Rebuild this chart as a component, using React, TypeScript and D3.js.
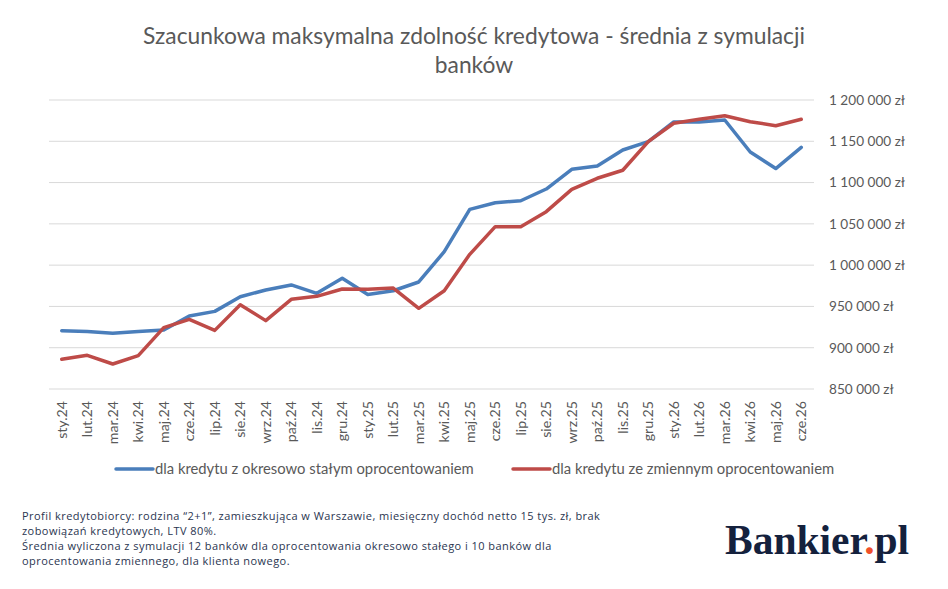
import React, { useEffect, useRef } from 'react';
import * as d3 from 'd3';

const months = [
  'sty.24', 'lut.24', 'mar.24', 'kwi.24', 'maj.24', 'cze.24', 'lip.24', 'sie.24', 'wrz.24', 'paź.24', 'lis.24', 'gru.24',
  'sty.25', 'lut.25', 'mar.25', 'kwi.25', 'maj.25', 'cze.25', 'lip.25', 'sie.25', 'wrz.25', 'paź.25', 'lis.25', 'gru.25',
  'sty.26', 'lut.26', 'mar.26', 'kwi.26', 'maj.26', 'cze.26',
];

// okresowo stałe oprocentowanie
const fixedRate = [
  920600, 919500, 917500, 919500, 921500, 938400, 944000, 961800, 969900, 976000, 965900, 984000,
  964500, 969000, 979600, 1016300, 1067600, 1075600, 1078000, 1092200, 1116000, 1120000, 1139400, 1149500,
  1173400, 1173400, 1175800, 1137000, 1117000, 1142700,
];

// zmienne oprocentowanie
const variableRate = [
  886000, 890800, 880300, 890400, 924300, 934400, 921000, 952100, 932800, 958600, 962200, 971100,
  970700, 972300, 947700, 969000, 1013100, 1046600, 1046600, 1064800, 1091800, 1105200, 1114900, 1149500,
  1171800, 1176600, 1181000, 1173700, 1168900, 1176600,
];

const yTicks = [850000, 900000, 950000, 1000000, 1050000, 1100000, 1150000, 1200000];

const seriesNames = ['dla kredytu z okresowo stałym oprocentowaniem', 'dla kredytu ze zmiennym oprocentowaniem'];
const seriesColors = ['#4a7ebb', '#be4b48'];

const footnote = [
  'Profil kredytobiorcy: rodzina “2+1”, zamieszkująca w Warszawie, miesięczny dochód netto 15 tys. zł, brak',
  'zobowiązań kredytowych, LTV 80%.',
  'Średnia wyliczona z symulacji 12 banków dla oprocentowania okresowo stałego i 10 banków dla',
  'oprocentowania zmiennego, dla klienta nowego.',
];

const W = 948;
const H = 589;
const font = 'Lato, "Open Sans", sans-serif';

const fmt = (v: number) => d3.format(',')(v).replace(/,/g, ' ') + ' zł';

const App: React.FC = () => {
  const ref = useRef<SVGSVGElement>(null);

  useEffect(() => {
    const svg = d3.select(ref.current);
    svg.selectAll('*').remove();

    const left = 49, right = 814, top = 100, bottom = 389;

    const x = d3.scaleBand().domain(months).range([left, right]);
    const y = d3.scaleLinear().domain([850000, 1200000]).range([bottom, top]);

    // title
    const title = svg.append('text')
      .attr('text-anchor', 'middle')
      .attr('font-family', font)
      .attr('font-size', 22.8)
      .attr('fill', '#595959');
    title.append('tspan').attr('x', 474).attr('y', 44).text('Szacunkowa maksymalna zdolność kredytowa - średnia z symulacji');
    title.append('tspan').attr('x', 474).attr('y', 73).text('banków');

    // gridlines
    svg.append('g')
      .selectAll('line')
      .data(yTicks)
      .enter().append('line')
      .attr('x1', left).attr('x2', right)
      .attr('y1', (d) => y(d)).attr('y2', (d) => y(d))
      .attr('stroke', '#d9d9d9')
      .attr('stroke-width', 1);

    // y labels (right side)
    svg.append('g')
      .selectAll('text')
      .data(yTicks)
      .enter().append('text')
      .attr('x', 829)
      .attr('y', (d) => y(d) + 4.8)
      .attr('font-family', font)
      .attr('font-size', 13.6)
      .attr('fill', '#595959')
      .text((d) => fmt(d));

    // x labels, rotated
    svg.append('g')
      .selectAll('text')
      .data(months)
      .enter().append('text')
      .attr('transform', (d) => `translate(${x(d)! + x.bandwidth() / 2 + 4.8},401) rotate(-90)`)
      .attr('text-anchor', 'end')
      .attr('font-family', font)
      .attr('font-size', 14.2)
      .attr('fill', '#595959')
      .text((d) => d);

    const line = d3.line<number>()
      .x((_, i) => x(months[i])! + x.bandwidth() / 2)
      .y((d) => y(d));

    [fixedRate, variableRate].forEach((s, i) => {
      svg.append('path')
        .datum(s)
        .attr('d', line)
        .attr('fill', 'none')
        .attr('stroke', seriesColors[i])
        .attr('stroke-width', 3.5)
        .attr('stroke-linejoin', 'round')
        .attr('stroke-linecap', 'round');
    });

    // legend
    const legendX = [116, 513];
    seriesNames.forEach((name, i) => {
      svg.append('line')
        .attr('x1', legendX[i]).attr('x2', legendX[i] + 37)
        .attr('y1', 469).attr('y2', 469)
        .attr('stroke', seriesColors[i])
        .attr('stroke-width', 3.5)
        .attr('stroke-linecap', 'round');
      svg.append('text')
        .attr('x', legendX[i] + 39)
        .attr('y', 474)
        .attr('font-family', font)
        .attr('font-size', 14.8)
        .attr('fill', '#595959')
        .text(name);
    });

    // footnote
    svg.append('g')
      .selectAll('text')
      .data(footnote)
      .enter().append('text')
      .attr('x', 22)
      .attr('y', (_, i) => 520 + i * 15)
      .attr('font-family', '"Open Sans", sans-serif')
      .attr('font-size', 11)
      .attr('letter-spacing', 0.45)
      .attr('fill', '#2a3550')
      .text((d) => d);

    // logo
    const logo = svg.append('text')
      .attr('x', 725)
      .attr('y', 554)
      .attr('font-family', '"Liberation Serif", "DejaVu Serif", serif')
      .attr('font-weight', 'bold')
      .attr('font-size', 41.5)
      .attr('fill', '#14213d');
    logo.append('tspan').text('Bankier');
    logo.append('tspan').attr('fill', '#f0502a').text('.');
    logo.append('tspan').text('pl');
  }, []);

  return (
    <svg ref={ref} width={W} height={H} style={{ display: 'block', position: 'absolute', left: 0, top: 0 }} />
  );
};

export default App;
